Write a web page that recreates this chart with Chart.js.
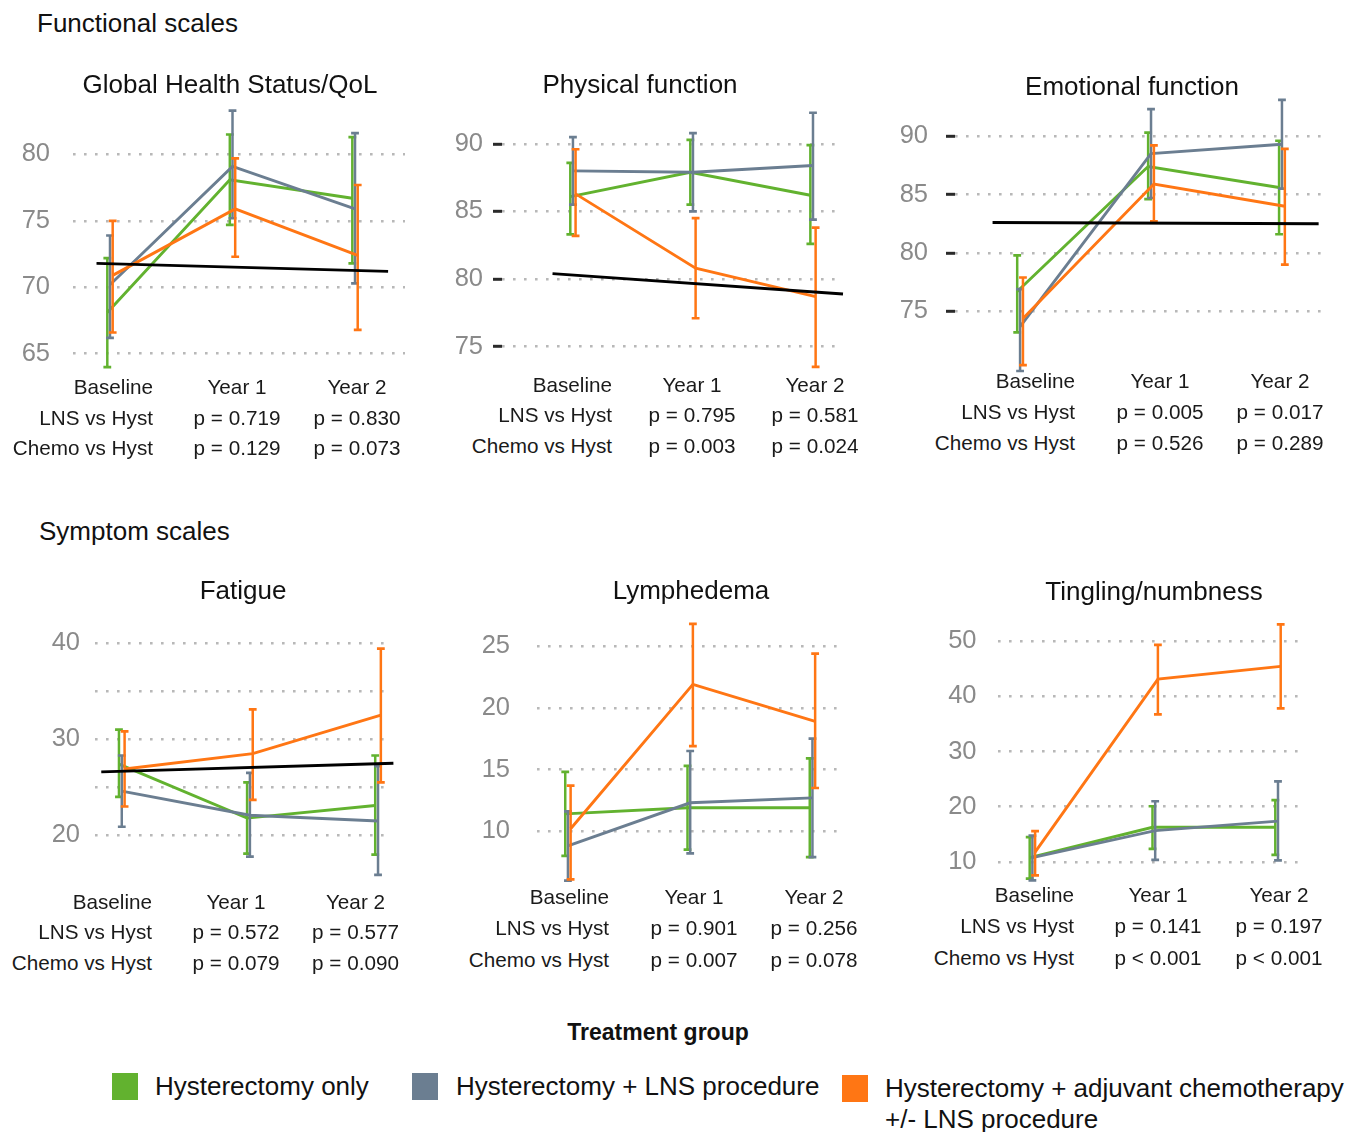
<!DOCTYPE html>
<html>
<head>
<meta charset="utf-8">
<title>Quality of life by treatment group</title>
<script src="https://cdn.jsdelivr.net/npm/chart.js@4.4.1/dist/chart.umd.min.js"></script>
<style>
  html, body { margin: 0; padding: 0; background: #ffffff; }
  body {
    width: 1349px; height: 1132px; position: relative; overflow: hidden;
    font-family: "Liberation Sans", Arial, Helvetica, sans-serif; color: #111;
  }
  .t { position: absolute; white-space: nowrap; line-height: 1; }
  .c { transform: translate(-50%, -50%); }
  .r { transform: translate(-100%, -50%); }
  .l { transform: translate(0, -50%); }
  .panel { position: absolute; }
  .swatch { position: absolute; }
</style>
</head>
<body>
<script>
// ---- data -------------------------------------------------------------
const timepoints  = ['Baseline', 'Year 1', 'Year 2'];
const comparisons = ['LNS vs Hyst', 'Chemo vs Hyst'];
const groups = [
  'Hysterectomy only',
  'Hysterectomy + LNS procedure',
  'Hysterectomy + adjuvant chemotherapy\n+/- LNS procedure'
];

// Mean score and 95% CI per group (rows: groups, columns: time points)
const qolMean = [[68.1, 78.1, 76.7], [70.2, 79.1, 75.9], [70.9, 75.9, 72.4]];
const qolLow  = [[64.0, 74.7, 71.8], [66.2, 75.2, 70.3], [66.6, 72.3, 66.8]];
const qolHigh = [[72.2, 81.5, 81.3], [73.9, 83.3, 81.6], [75.0, 79.7, 77.7]];
const qolNorm = [71.8, 71.2];
const qolP    = [['p = 0.719', 'p = 0.830'], ['p = 0.129', 'p = 0.073']];
const qolTicks = [65, 70, 75, 80];
const qolTickLabels = ['65', '70', '75', '80'];

const physMean = [[86.1, 87.9, 86.2], [88.0, 87.9, 88.4], [86.3, 80.8, 78.7]];
const physLow  = [[83.3, 85.5, 82.6], [85.5, 85.0, 84.4], [83.2, 77.1, 73.5]];
const physHigh = [[88.6, 90.3, 89.9], [90.5, 90.8, 92.3], [89.6, 84.5, 83.8]];
const physNorm = [80.4, 78.9];
const physP    = [['p = 0.795', 'p = 0.581'], ['p = 0.003', 'p = 0.024']];
const physTicks = [75, 80, 85, 90];
const physTickLabels = ['75', '80', '85', '90'];

const emoMean = [[76.7, 87.4, 85.6], [73.7, 88.5, 89.3], [74.4, 85.9, 84.0]];
const emoLow  = [[73.2, 84.6, 81.6], [69.9, 84.7, 85.5], [70.4, 82.7, 79.0]];
const emoHigh = [[79.8, 90.3, 89.6], [76.9, 92.3, 93.1], [77.9, 89.2, 88.9]];
const emoNorm = [82.6, 82.5];
const emoP    = [['p = 0.005', 'p = 0.017'], ['p = 0.526', 'p = 0.289']];
const emoTicks = [75, 80, 85, 90];
const emoTickLabels = ['75', '80', '85', '90'];

const fatMean = [[27.4, 21.8, 23.1], [24.6, 22.1, 21.5], [26.9, 28.5, 32.5]];
const fatLow  = [[24.0, 18.1, 18.0], [20.9, 17.8, 15.9], [23.0, 23.7, 25.5]];
const fatHigh = [[31.0, 25.5, 28.3], [28.3, 26.5, 27.2], [30.8, 33.1, 39.4]];
const fatNorm = [26.6, 27.5];
const fatP    = [['p = 0.572', 'p = 0.577'], ['p = 0.079', 'p = 0.090']];
const fatTicks = [20, 25, 30, 35, 40];
const fatTickLabels = ['20', '', '30', '', '40'];

const lymMean = [[11.4, 11.9, 11.9], [8.8, 12.3, 12.7], [10.2, 21.9, 18.9]];
const lymLow  = [[8.0, 8.5, 7.9], [6.0, 8.2, 7.9], [6.1, 16.9, 13.5]];
const lymHigh = [[14.8, 15.3, 15.9], [11.6, 16.5, 17.5], [13.7, 26.8, 24.4]];
const lymP    = [['p = 0.901', 'p = 0.256'], ['p = 0.007', 'p = 0.078']];
const lymTicks = [10, 15, 20, 25];
const lymTickLabels = ['10', '15', '20', '25'];

const tinMean = [[10.8, 16.3, 16.3], [10.8, 15.7, 17.4], [11.8, 43.1, 45.4]];
const tinLow  = [[7.0, 12.4, 11.3], [6.7, 10.4, 10.3], [7.6, 36.7, 37.8]];
const tinHigh = [[14.5, 20.1, 21.2], [14.8, 21.0, 24.6], [15.6, 49.3, 53.0]];
const tinP    = [['p = 0.141', 'p = 0.197'], ['p < 0.001', 'p < 0.001']];
const tinTicks = [10, 20, 30, 40, 50];
const tinTickLabels = ['10', '20', '30', '40', '50'];

// ---- styling ----------------------------------------------------------
const FONT = '"Liberation Sans", Arial, Helvetica, sans-serif';
const groupColors = ['#62b22f', '#6b7e91', '#ff7614'];
const AXIS_W = 90;       // reserved width of the value axis
const PAD = 20;          // canvas padding above/below/right of the plot area
const DODGE = 0.022;     // horizontal offset between groups (category units)
const LINE_W = 2.9;      // width of the group and reference lines

// Panel layout: plot-area box in page pixels, axis ranges, table placement
const panels = [
  { title: 'Global Health Status/QoL', titleAt: [230, 84],
    mean: qolMean, low: qolLow, high: qolHigh, norm: qolNorm, normSpan: [-0.11, 2.27],
    p: qolP, ticks: qolTicks, tickLabels: qolTickLabels,
    box: { L: 73, R: 405, T: 101, B: 373 }, x: [-0.302, 2.408], y: [63.5, 84],
    tickMarks: false, labelGap: 23,
    table: { right: 153, cols: [237, 357], rows: [387, 417.5, 448] } },
  { title: 'Physical function', titleAt: [640, 84],
    mean: physMean, low: physLow, high: physHigh, norm: physNorm, normSpan: [-0.17, 2.25],
    p: physP, ticks: physTicks, tickLabels: physTickLabels,
    box: { L: 502, R: 843, T: 103, B: 373 }, x: [-0.591, 2.25], y: [73, 93],
    tickMarks: true, labelGap: 10,
    table: { right: 612, cols: [692, 815], rows: [385, 415, 446] } },
  { title: 'Emotional function', titleAt: [1132, 86],
    mean: emoMean, low: emoLow, high: emoHigh, norm: emoNorm, normSpan: [-0.21, 2.28],
    p: emoP, ticks: emoTicks, tickLabels: emoTickLabels,
    box: { L: 955, R: 1327, T: 89, B: 375 }, x: [-0.497, 2.344], y: [69.5, 94],
    tickMarks: true, labelGap: 18,
    table: { right: 1075, cols: [1160, 1280], rows: [381, 411.5, 443] } },
  { title: 'Fatigue', titleAt: [243, 590],
    mean: fatMean, low: fatLow, high: fatHigh, norm: fatNorm, normSpan: [-0.16, 2.12],
    p: fatP, ticks: fatTicks, tickLabels: fatTickLabels,
    box: { L: 95, R: 392, T: 633, B: 878 }, x: [-0.209, 2.109], y: [15.5, 41],
    tickMarks: false, labelGap: 15,
    table: { right: 152, cols: [236, 355.5], rows: [901.5, 932, 963] } },
  { title: 'Lymphedema', titleAt: [691, 590],
    mean: lymMean, low: lymLow, high: lymHigh, norm: null,
    p: lymP, ticks: lymTicks, tickLabels: lymTickLabels,
    box: { L: 537, R: 838, T: 615, B: 886 }, x: [-0.253, 2.209], y: [5.5, 27.5],
    tickMarks: false, labelGap: 27,
    table: { right: 609, cols: [694, 814], rows: [897, 928, 960] } },
  { title: 'Tingling/numbness', titleAt: [1154, 591],
    mean: tinMean, low: tinLow, high: tinHigh, norm: null,
    p: tinP, ticks: tinTicks, tickLabels: tinTickLabels,
    box: { L: 998, R: 1299, T: 619, B: 884 }, x: [-0.28, 2.171], y: [6, 54],
    tickMarks: false, labelGap: 21.5,
    table: { right: 1074, cols: [1158, 1279], rows: [895, 926, 958] } }
];

// ---- helpers ----------------------------------------------------------
function addText(str, x, y, cls, css) {
  const d = document.createElement('div');
  d.className = 't ' + cls;
  d.textContent = str;
  d.style.left = x + 'px';
  d.style.top = y + 'px';
  Object.assign(d.style, css || {});
  document.body.appendChild(d);
  return d;
}

// Vertical confidence-interval whiskers with caps, drawn after each group line
const errorBars = {
  id: 'errorBars',
  afterDatasetDraw(chart, args) {
    const ds = chart.data.datasets[args.index];
    if (!ds.errLow) return;
    const xs = chart.scales.x, ys = chart.scales.y, ctx = chart.ctx;
    ctx.save();
    ctx.strokeStyle = ds.borderColor;
    ds.data.forEach((pt, i) => {
      const x = xs.getPixelForValue(pt.x);
      const y1 = ys.getPixelForValue(ds.errLow[i]);
      const y2 = ys.getPixelForValue(ds.errHigh[i]);
      ctx.lineWidth = 2.5;
      ctx.beginPath(); ctx.moveTo(x, y1); ctx.lineTo(x, y2); ctx.stroke();
      ctx.lineWidth = 2.7;
      ctx.beginPath();
      ctx.moveTo(x - 3.9, y1); ctx.lineTo(x + 3.9, y1);
      ctx.moveTo(x - 3.9, y2); ctx.lineTo(x + 3.9, y2);
      ctx.stroke();
    });
    ctx.restore();
  }
};

function buildConfig(p) {
  const datasets = p.mean.map((vals, s) => ({
    label: groups[s],
    data: vals.map((v, i) => ({ x: i + (s - 1) * DODGE, y: v })),
    errLow: p.low[s],
    errHigh: p.high[s],
    borderColor: groupColors[s],
    borderWidth: LINE_W,
    pointRadius: 0,
    fill: false,
    tension: 0,
    clip: false,
    order: 3 - s
  }));
  if (p.norm) {
    datasets.push({
      label: 'Reference population',
      data: [{ x: p.normSpan[0], y: p.norm[0] }, { x: p.normSpan[1], y: p.norm[1] }],
      borderColor: '#000000',
      borderWidth: LINE_W,
      pointRadius: 0,
      fill: false,
      clip: false,
      order: 0
    });
  }
  return {
    type: 'line',
    data: { datasets },
    plugins: [errorBars],
    options: {
      responsive: false,
      maintainAspectRatio: false,
      animation: false,
      devicePixelRatio: 1,
      events: [],
      layout: { padding: { top: PAD, bottom: PAD, left: 0, right: PAD } },
      plugins: { legend: { display: false }, tooltip: { enabled: false } },
      scales: {
        x: { type: 'linear', min: p.x[0], max: p.x[1], display: false },
        y: {
          type: 'linear', min: p.y[0], max: p.y[1],
          afterFit(scale) { scale.width = AXIS_W; },
          afterBuildTicks(scale) { scale.ticks = p.ticks.map(v => ({ value: v })); },
          ticks: {
            autoSkip: false,
            padding: p.labelGap,
            color: '#8a8a8a',
            font: { family: FONT, size: 25.5 },
            callback: (v, i) => p.tickLabels[i]
          },
          grid: {
            color: '#b8b8b8',
            lineWidth: 2.6,
            drawTicks: p.tickMarks,
            tickLength: 9,
            tickWidth: 3,
            tickColor: '#2a2a2a',
            tickBorderDash: []
          },
          border: { display: false, dash: [2.6, 8.4] }
        }
      }
    }
  };
}

function placeCanvas(wrap, cv, left, top, w, h) {
  wrap.style.left = left + 'px';
  wrap.style.top = top + 'px';
  wrap.style.width = w + 'px';
  wrap.style.height = h + 'px';
  cv.width = w; cv.height = h;
  cv.style.width = w + 'px'; cv.style.height = h + 'px';
}

// ---- section headings --------------------------------------------------
addText('Functional scales', 37, 23, 'l', { fontSize: '26px' });
addText('Symptom scales', 39, 531, 'l', { fontSize: '26px' });

// ---- panels -----------------------------------------------------------
panels.forEach(p => {
  const b = p.box;
  const wrap = document.createElement('div');
  wrap.className = 'panel';
  const cv = document.createElement('canvas');
  wrap.appendChild(cv);
  document.body.appendChild(wrap);

  // first pass: measure how much room the axis and padding take
  const w0 = AXIS_W + (b.R - b.L) + PAD;
  const h0 = (b.B - b.T) + 2 * PAD;
  placeCanvas(wrap, cv, b.L - AXIS_W, b.T - PAD, w0, h0);
  let chart = new Chart(cv, buildConfig(p));
  const ca = chart.chartArea;
  const offL = ca.left, offT = ca.top, offR = w0 - ca.right, offB = h0 - ca.bottom;
  chart.destroy();

  // second pass: size the canvas so the plot area lands on the box
  const w = Math.round(offL + (b.R - b.L) + offR);
  const h = Math.round(offT + (b.B - b.T) + offB);
  placeCanvas(wrap, cv, b.L - offL, b.T - offT, w, h);
  chart = new Chart(cv, buildConfig(p));

  // panel title
  addText(p.title, p.titleAt[0], p.titleAt[1], 'c', { fontSize: '26px' });

  // comparison table under the panel
  const t = p.table;
  const tf = { fontSize: '20.7px', color: '#1a1a1a' };
  addText(timepoints[0], t.right, t.rows[0], 'r', tf);
  addText(timepoints[1], t.cols[0], t.rows[0], 'c', tf);
  addText(timepoints[2], t.cols[1], t.rows[0], 'c', tf);
  comparisons.forEach((lab, r) => {
    addText(lab, t.right, t.rows[r + 1], 'r', tf);
    addText(p.p[r][0], t.cols[0], t.rows[r + 1], 'c', tf);
    addText(p.p[r][1], t.cols[1], t.rows[r + 1], 'c', tf);
  });
});

// ---- legend -----------------------------------------------------------
addText('Treatment group', 658, 1032, 'c', { fontSize: '23px', fontWeight: 'bold' });
const legendSlots = [
  { sw: [112, 1073], tx: [155, 1086] },
  { sw: [412, 1073], tx: [456, 1086] },
  { sw: [842, 1075], tx: [885, 1072.8] }
];
groups.forEach((g, s) => {
  const slot = legendSlots[s];
  const sw = document.createElement('div');
  sw.className = 'swatch';
  Object.assign(sw.style, {
    left: slot.sw[0] + 'px', top: slot.sw[1] + 'px',
    width: '26px', height: '27px', background: groupColors[s]
  });
  document.body.appendChild(sw);
  if (g.indexOf('\n') >= 0) {
    const d = document.createElement('div');
    d.className = 't';
    d.textContent = g;
    Object.assign(d.style, {
      left: slot.tx[0] + 'px', top: slot.tx[1] + 'px',
      fontSize: '26px', lineHeight: '31px', whiteSpace: 'pre-line'
    });
    document.body.appendChild(d);
  } else {
    addText(g, slot.tx[0], slot.tx[1], 'l', { fontSize: '26px' });
  }
});
</script>
</body>
</html>
